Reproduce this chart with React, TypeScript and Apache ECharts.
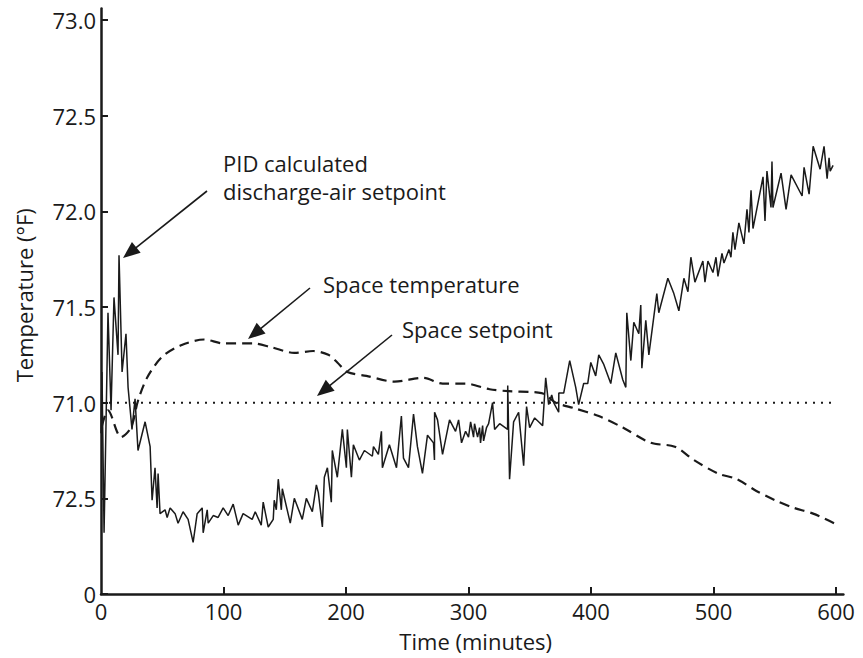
import React, { useEffect, useRef } from "react";
import * as echarts from "echarts";

// ---- Data ----
const pidTime = [
  0, 0.8, 2.5, 5.7, 8.2, 10.6, 13.9, 14.7, 17.2, 20.4,
  22.1, 25.3, 27.8, 30.2, 36.0, 40.1, 41.7, 44.1, 45.8, 46.6,
  48.2, 52.3, 54.0, 56.4, 60.5, 62.9, 67.0, 71.1, 75.2, 78.5,
  82.6, 83.4, 86.7, 87.5, 91.6, 95.6, 99.7, 103.8, 107.9, 112.0, 116.0,
  123.4, 125.9, 130.8, 132.4, 136.5, 140.6, 141.4, 143.1, 144.7, 147.2,
  148.0, 154.5, 157.8, 164.3, 167.6, 172.5, 175.8, 177.4, 180.7, 182.3,
  184.8, 188.0, 188.8, 192.9, 197.0, 200.3, 201.1, 204.4, 206.0, 210.9,
  215.0, 221.5, 222.4, 226.4, 228.9, 229.7, 235.4,
  241.2, 245.2, 246.9, 251.0, 255.1, 258.3, 262.4, 266.5, 271.4, 272.2,
  272.3, 274.7, 278.8, 284.5, 289.4, 291.9, 294.3, 297.6, 300.0, 301.7,
  304.1, 304.9, 307.4, 309.0, 309.8, 311.5, 312.3, 314.7, 316.4, 319.6,
  321.3, 325.4, 331.9, 332.0, 333.5, 336.8, 340.9, 345.0, 347.4, 349.9,
  354.0, 357.2,
  360.5, 363.0, 365.4, 367.9, 369.5, 373.6, 373.7, 377.7, 382.6, 387.5,
  389.9, 394.0, 397.3, 399.8, 403.8, 406.3, 410.4, 416.1, 420.2, 425.9,
  428.4, 429.2, 432.5, 434.9, 439.0, 440.6, 441.5, 444.7, 447.2, 453.7,
  455.3, 462.7, 467.6, 471.7,
  475.8, 479.1, 481.5, 484.8, 491.3, 493.0, 495.4, 499.5, 502.0, 503.6,
  506.9, 508.5, 512.6, 514.2, 515.8, 517.5, 520.7, 524.8, 527.3, 528.9,
  530.6, 532.2, 540.4, 542.0, 543.6, 546.9, 547.7, 548.5, 555.1, 559.2,
  563.3, 572.3, 573.9, 578.0, 581.3, 587.0, 590.2, 592.7, 594.3, 595.2, 597.6,
];
const pidTemp = [
  70.84, 71.16, 70.32, 71.47, 70.96, 71.55, 71.25, 71.77, 71.16, 71.36,
  71.08, 70.86, 71.02, 70.75, 70.90, 70.77, 70.49, 70.66, 70.45, 70.63,
  70.42, 70.44, 70.40, 70.45, 70.42, 70.37, 70.43, 70.39, 70.27, 70.42,
  70.45, 70.32, 70.44, 70.37, 70.41, 70.40, 70.45, 70.41, 70.47, 70.36, 70.42,
  70.39, 70.43, 70.36, 70.48, 70.35, 70.39, 70.49, 70.44, 70.60, 70.44,
  70.55, 70.37, 70.50, 70.39, 70.50, 70.43, 70.57, 70.53, 70.35, 70.61,
  70.66, 70.48, 70.75, 70.61, 70.86, 70.66, 70.86, 70.61, 70.78, 70.70,
  70.75, 70.72, 70.77, 70.73, 70.85, 70.66, 70.78,
  70.66, 70.93, 70.71, 70.66, 70.94, 70.77, 70.63, 70.83, 70.79, 70.70,
  70.95, 70.91, 70.73, 70.91, 70.85, 70.91, 70.79, 70.85, 70.82, 70.90,
  70.82, 70.89, 70.82, 70.87, 70.79, 70.88, 70.80, 70.87, 70.89, 71.00,
  70.86, 70.89, 70.86, 71.09, 70.60, 70.90, 70.95, 70.67, 70.98, 70.87,
  70.92, 70.90,
  70.88, 71.13, 70.99, 71.04, 71.00, 70.95, 71.05, 71.05, 71.22, 71.08,
  70.99, 71.10, 71.10, 71.21, 71.14, 71.25, 71.20, 71.10, 71.26, 71.12,
  71.08, 71.47, 71.22, 71.42, 71.36, 71.51, 71.18, 71.43, 71.25, 71.57,
  71.47, 71.65, 71.57, 71.48,
  71.65, 71.58, 71.76, 71.63, 71.74, 71.63, 71.74, 71.68, 71.76, 71.66,
  71.78, 71.73, 71.80, 71.76, 71.89, 71.80, 71.94, 71.83, 72.01, 71.89,
  72.11, 71.91, 72.18, 71.95, 72.21, 72.02, 72.26, 72.02, 72.20, 72.01,
  72.19, 72.08, 72.23, 72.09, 72.34, 72.22, 72.34, 72.17, 72.28, 72.21, 72.24,
];

const spaceTime = [
  0.8, 5.7, 16.4, 24.5, 30.2, 37.6, 49.9, 65.4, 84.2, 99.7,
  123.4, 139.0, 157.8, 173.3, 185.6, 192.9, 201.1, 216.6, 239.5, 263.2,
  278.8, 297.6, 317.2, 332.7, 359.7, 371.2, 386.7, 406.3, 425.9, 448.8,
  468.4, 484.0, 503.6, 519.1, 534.6, 550.2, 565.7, 581.3, 598.4,
];
const spaceTemp = [
  70.88, 70.96, 70.82, 70.87, 71.01, 71.13, 71.24, 71.30, 71.33, 71.31,
  71.31, 71.29, 71.26, 71.27, 71.25, 71.21, 71.16, 71.14, 71.11, 71.13,
  71.10, 71.10, 71.07, 71.06, 71.05, 71.00, 70.97, 70.93, 70.87, 70.79,
  70.77, 70.70, 70.63, 70.60, 70.54, 70.49, 70.45, 70.42, 70.37,
];

const setpointTime = [0, 600];
const setpointTemp = [71.0, 71.0];

const xTickValues = [0, 100, 200, 300, 400, 500, 600];
const yTickValues = [70, 70.5, 71, 71.5, 72, 72.5, 73];
const yTickLabels = ["0", "72.5", "71.0", "71.5", "72.0", "72.5", "73.0"];

const xTitle = "Time (minutes)";
const yTitle = "Temperature (°F)";
const notePID = ["PID calculated", "discharge-air setpoint"];
const noteSpaceTemp = "Space temperature";
const noteSetpoint = "Space setpoint";

// ---- Styling ----
const FONT = '"Open Sans", "Liberation Sans", sans-serif';
const INK = "#1a1a1a";

function arrow(x1: number, y1: number, x2: number, y2: number) {
  const dx = x2 - x1;
  const dy = y2 - y1;
  const len = Math.hypot(dx, dy);
  const ux = dx / len;
  const uy = dy / len;
  const L = 17;
  const Wd = 7;
  const bx = x2 - ux * L;
  const by = y2 - uy * L;
  return [
    {
      type: "line",
      shape: { x1, y1, x2: bx + ux * 3, y2: by + uy * 3 },
      style: { stroke: INK, lineWidth: 1.6 },
      silent: true,
    },
    {
      type: "polygon",
      shape: {
        points: [
          [x2, y2],
          [bx - uy * Wd, by + ux * Wd],
          [bx + uy * Wd, by - ux * Wd],
        ],
      },
      style: { fill: INK },
      silent: true,
    },
  ];
}

function note(text: string, x: number, y: number) {
  return {
    type: "text",
    style: {
      text,
      x,
      y,
      font: `22px ${FONT}`,
      fill: INK,
      textAlign: "left",
      textVerticalAlign: "middle",
      align: "left",
      verticalAlign: "middle",
    },
    silent: true,
  };
}

export default function App() {
  const ref = useRef<HTMLDivElement>(null);

  useEffect(() => {
    document.body.style.margin = "0";
    if (!ref.current) return;
    const chart = echarts.init(ref.current, null, { renderer: "svg" });

    const axisLabelStyle = {
      fontFamily: FONT,
      fontSize: 22,
      color: INK,
    };

    const option: any = {
      animation: false,
      backgroundColor: "#ffffff",
      grid: {
        left: 101,
        right: 19.6,
        top: 8.5,
        bottom: 64,
        containLabel: false,
        outerBoundsMode: "none",
      },
      xAxis: {
        type: "value",
        min: 0,
        max: 606,
        name: xTitle,
        nameLocation: "middle",
        nameGap: 35,
        nameTextStyle: {
          fontFamily: FONT,
          fontSize: 22,
          lineHeight: 24,
          color: INK,
          padding: [0, 0, 0, 7],
        },
        axisLine: { show: true, onZero: false, lineStyle: { color: INK, width: 2.5 } },
        axisTick: {
          show: true,
          inside: true,
          length: 7,
          customValues: [100, 200, 300, 400, 500, 600],
          lineStyle: { color: INK, width: 2 },
        },
        axisLabel: {
          ...axisLabelStyle,
          margin: 6,
          customValues: xTickValues,
          formatter: (v: number) => String(Math.round(v)),
        },
        splitLine: { show: false },
      },
      yAxis: {
        type: "value",
        min: 70,
        max: 73.06,
        name: yTitle,
        nameLocation: "middle",
        nameGap: 66,
        nameRotate: 90,
        nameTextStyle: { fontFamily: FONT, fontSize: 22, color: INK, padding: [0, 0, 0, 12] },
        axisLine: { show: true, onZero: false, lineStyle: { color: INK, width: 2.5 } },
        axisTick: {
          show: true,
          inside: true,
          length: 7,
          customValues: yTickValues,
          lineStyle: { color: INK, width: 2 },
        },
        axisLabel: {
          ...axisLabelStyle,
          margin: 5,
          customValues: yTickValues,
          formatter: (v: number) => {
            const i = yTickValues.findIndex((t) => Math.abs(t - v) < 1e-6);
            return i >= 0 ? yTickLabels[i] : "";
          },
        },
        splitLine: { show: false },
      },
      series: [
        {
          name: "Space setpoint",
          type: "line",
          data: setpointTime.map((t, i) => [t, setpointTemp[i]]),
          showSymbol: false,
          lineStyle: { color: INK, width: 2, type: [2, 6] },
          z: 2,
        },
        {
          name: "Space temperature",
          type: "line",
          data: spaceTime.map((t, i) => [t, spaceTemp[i]]),
          showSymbol: false,
          smooth: 0.3,
          lineStyle: { color: INK, width: 2.2, type: [10, 6] },
          z: 3,
        },
        {
          name: "PID calculated discharge-air setpoint",
          type: "line",
          data: pidTime.map((t, i) => [t, pidTemp[i]]),
          showSymbol: false,
          lineStyle: { color: INK, width: 1.5 },
          z: 4,
        },
      ],
      graphic: [
        note(notePID[0], 223, 163),
        note(notePID[1], 223, 191),
        note(noteSpaceTemp, 323, 284),
        note(noteSetpoint, 402, 329),
        ...arrow(207, 191, 123, 258),
        ...arrow(310, 288, 248, 339),
        ...arrow(392, 335, 317, 396),
      ],
    };

    chart.setOption(option);
    return () => chart.dispose();
  }, []);

  return <div ref={ref} style={{ width: 863, height: 658 }} />;
}
